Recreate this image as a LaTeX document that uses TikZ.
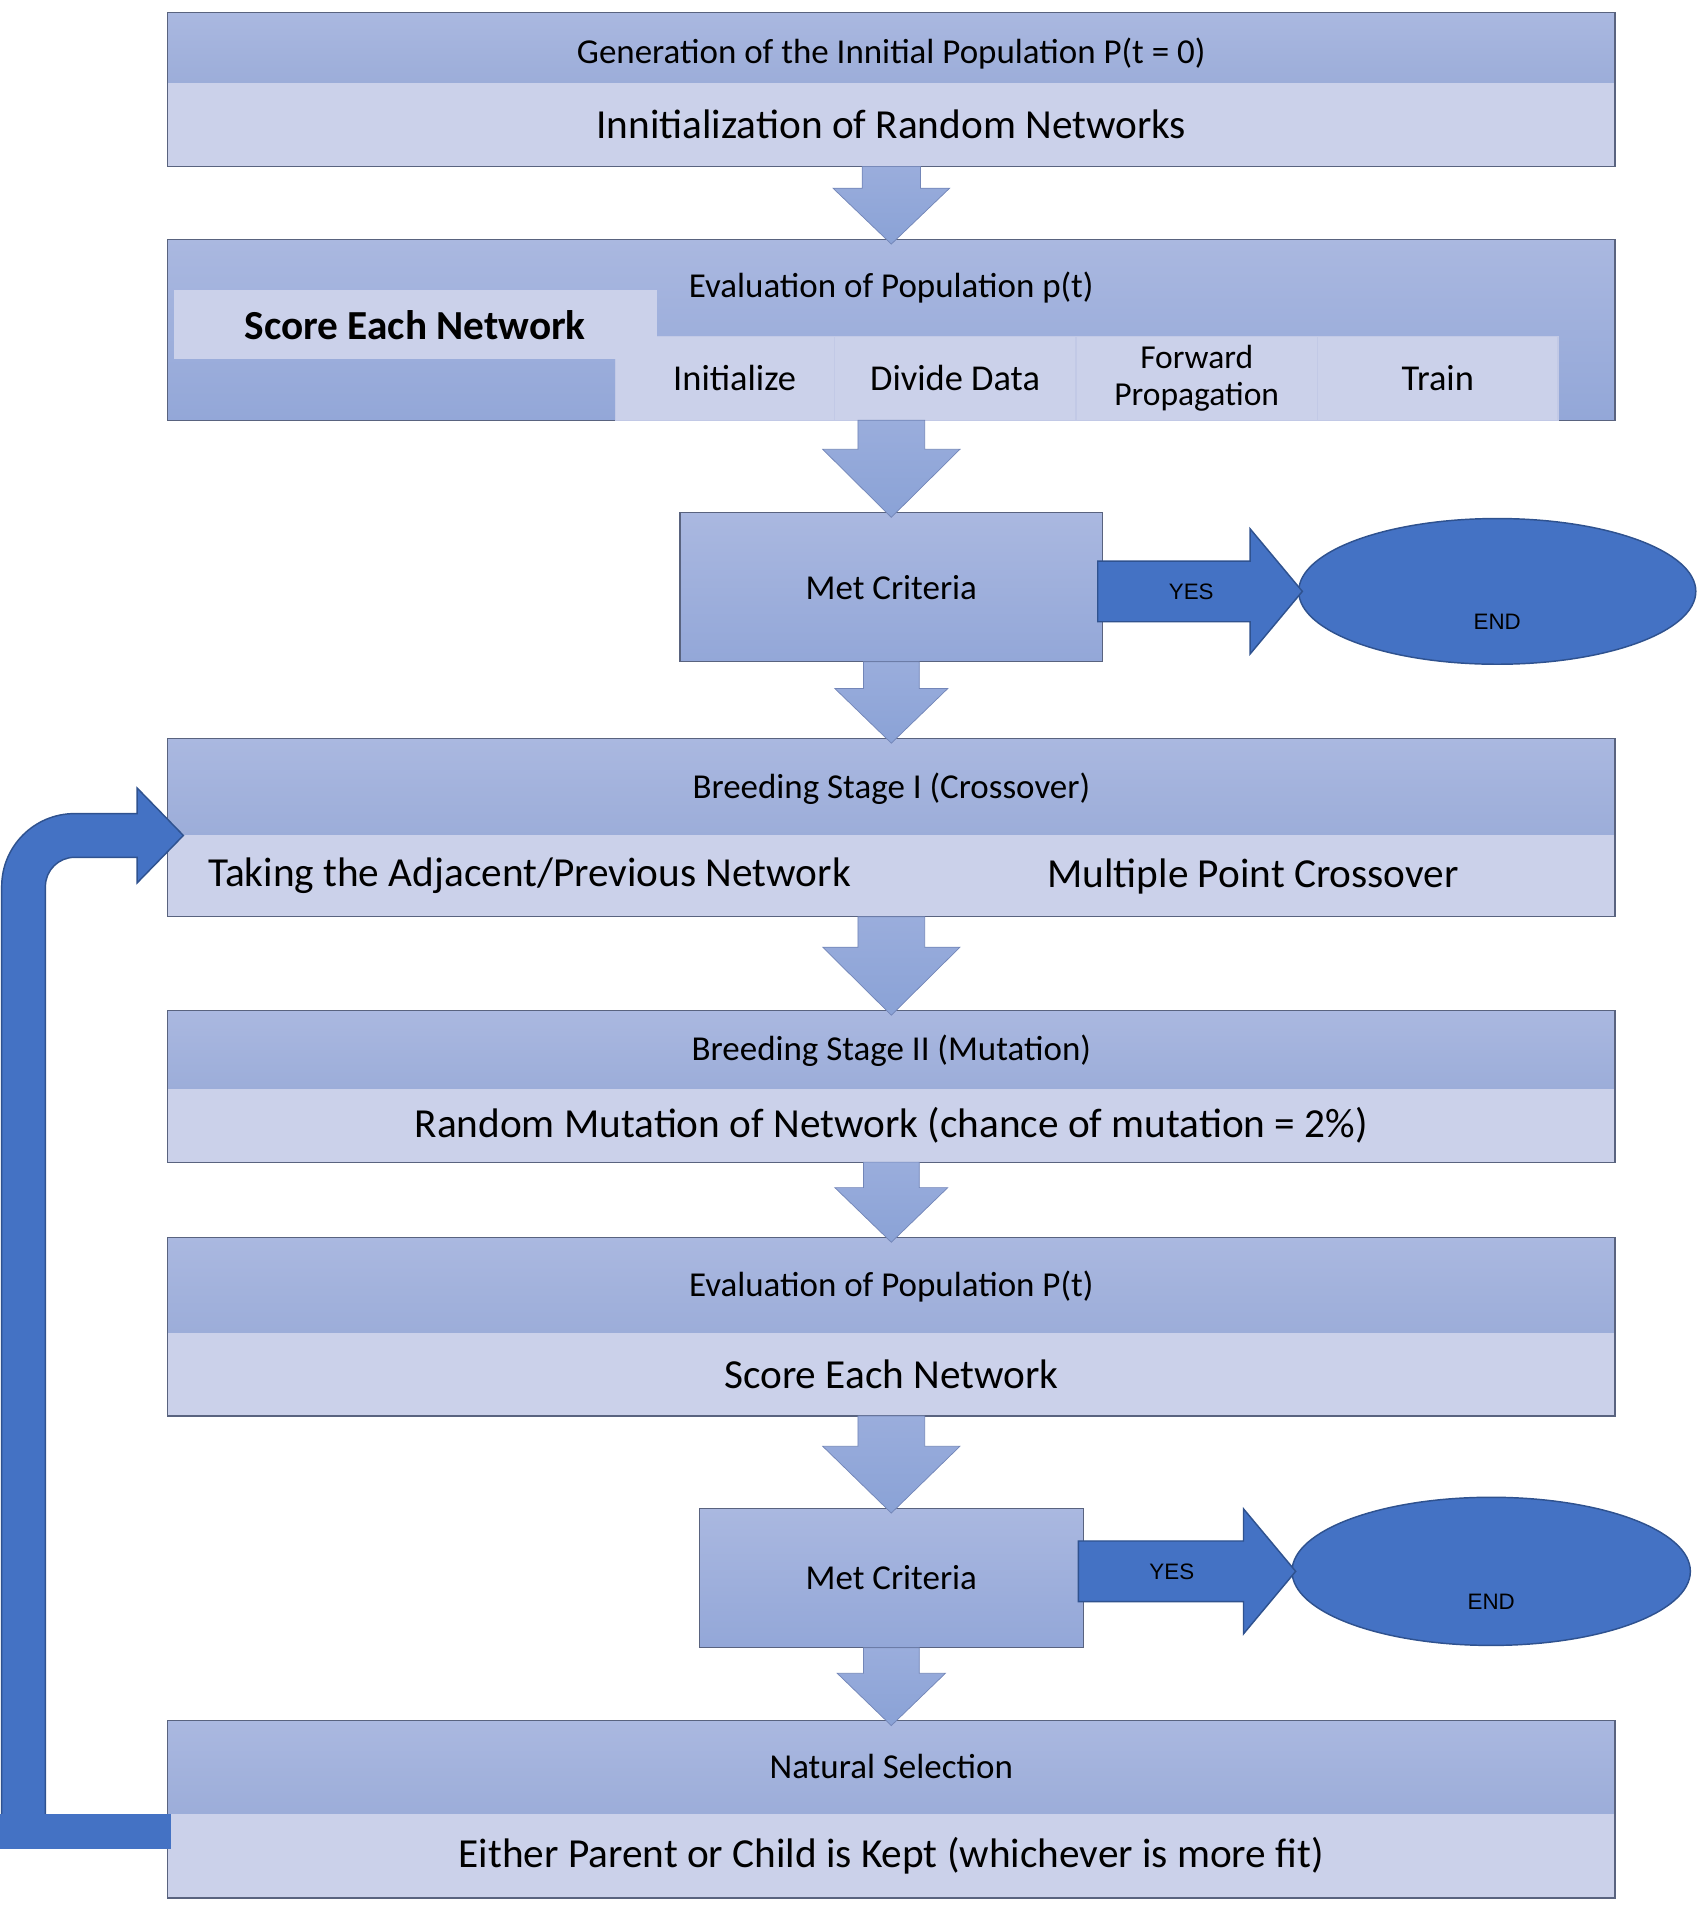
\documentclass[tikz,border=0pt]{standalone}
\usepackage{fontspec}
\setmainfont{Carlito}
\newfontfamily\arialfont{Liberation Sans}
\usetikzlibrary{calc, positioning, shapes.geometric}

\definecolor{bandtop}{HTML}{AAB8E0}
\definecolor{bandbot}{HTML}{9CADD9}
\definecolor{boxbot}{HTML}{93A7D8}
\definecolor{bodyfill}{HTML}{CBD1EA}
\definecolor{partline}{HTML}{C2C9E6}
\definecolor{flowtop}{HTML}{9AADDC}
\definecolor{flowbot}{HTML}{8AA2D6}
\definecolor{flowline}{HTML}{7386B8}
\definecolor{darkblue}{HTML}{4472C4}
\definecolor{darkline}{HTML}{2F528F}
\definecolor{boxline}{HTML}{59637F}

\begin{document}
\begin{tikzpicture}[
    x=0.5pt, y=-0.5pt,
    every node/.style={inner sep=0pt, outer sep=0pt, text=black},
    band/.style={rectangle, minimum width=596pt, top color=bandtop,
        bottom color=bandbot, font=\fontsize{14.4}{17}\selectfont,
        text height=9.2pt, text depth=0pt},
    body/.style={rectangle, minimum width=596pt, fill=bodyfill,
        font=\fontsize{17}{20}\selectfont},
    bigbox/.style={rectangle, top color=bandtop, bottom color=boxbot,
        draw=boxline, line width=0.5pt, font=\fontsize{14.4}{17}\selectfont},
    part/.style={rectangle, fill=bodyfill, draw=partline, line width=0.5pt,
        minimum height=34.5pt, font=\fontsize{15}{18}\selectfont},
    outline/.style={draw=boxline, line width=0.5pt},
    flow/.style={top color=flowtop, bottom color=flowbot, draw=flowline,
        line width=0.3pt},
    yesarrow/.style={fill=darkblue, draw=darkline, line width=0.6pt},
    endcap/.style={ellipse, fill=darkblue, draw=darkline, line width=0.6pt},
    endlabel/.style={font=\arialfont\fontsize{9.2}{11}\selectfont, yshift=-12.5pt}
    ]
\useasboundingbox (0,0) rectangle (1400,1569.6);

%initial population
\node[band, minimum height=29pt, text height=13.2pt] (gen) at (734,39)
    {Generation of the Innitial Population P(t = 0)};
\node[body, minimum height=34.5pt, below=0pt of gen] (genbody)
    {Innitialization of Random Networks};

%evaluation with sub steps
\node[bigbox, minimum width=596pt, minimum height=74.5pt] (eval) at (734,271.5) {};
\node[font=\fontsize{14.4}{17}\selectfont] (evaltitle) at (734,237)
    {Evaluation of Population p(t)};
\node[part, minimum width=90pt] (init) at (597,311.5)
    {\hspace*{8pt}Initialize};
\node[part, minimum width=99.5pt, right=0pt of init] (divide) {Divide Data};
\node[part, minimum width=99.5pt, right=0pt of divide, align=center,
    font=\fontsize{13.8}{15}\selectfont] (forward) {Forward\\Propagation};
\node[part, minimum width=99pt, right=0pt of forward] (train) {Train};
\node[part, draw=none, minimum width=199pt, minimum height=28.5pt,
    font=\fontsize{17}{20}\selectfont\bfseries] (scorenet) at (342,267.5)
    {Score Each Network};

%first check
\node[bigbox, minimum width=174pt, minimum height=61.5pt] (met1) at (734,483.5)
    {Met Criteria};
\node[endcap, minimum width=163.5pt, minimum height=60pt,
    label={[endlabel]center:END}] (end1) at (1233,487) {};

%crossover
\node[band, minimum height=40pt] (breed1) at (734,648)
    {Breeding Stage I (Crossover)};
\node[body, minimum width=298pt, minimum height=33.5pt, anchor=north west]
    (crossleft) at (breed1.south west) {Taking the Adjacent/Previous Network};
\node[body, minimum width=298pt, minimum height=33.5pt, right=0pt of crossleft]
    (crossright) {Multiple Point Crossover};

%mutation
\node[band, minimum height=32.5pt] (breed2) at (734,864.5)
    {Breeding Stage II (Mutation)};
\node[body, minimum height=30pt, below=0pt of breed2] (mutate)
    {Random Mutation of Network (chance of mutation = 2\%)};

%second evaluation
\node[band, minimum height=39.5pt] (eval2) at (734,1058.5)
    {Evaluation of Population P(t)};
\node[body, minimum height=34pt, below=0pt of eval2] (score)
    {Score Each Network};

%second check
\node[bigbox, minimum width=158pt, minimum height=57.5pt] (met2) at (734,1299.5)
    {Met Criteria};
\node[endcap, minimum width=164pt, minimum height=61pt,
    label={[endlabel]center:END}] (end2) at (1228,1294) {};

%selection
\node[band, minimum height=38.5pt] (select) at (734,1455.5)
    {Natural Selection};
\node[body, minimum height=34.5pt, below=0pt of select] (keep)
    {Either Parent or Child is Kept (whichever is more fit)};

%box outlines
\foreach \t/\b in {gen/genbody, breed1/crossright, breed2/mutate,
                   eval2/score, select/keep}
    \draw[outline] (\t.north west) rectangle (\b.south east);

%block arrows down the chain
\foreach \a/\b/\s/\h/\l in {
        genbody.south/eval.north/12pt/24pt/23pt,
        eval.south/met1.north/13.75pt/28.25pt/28pt,
        met1.south/breed1.north/11.5pt/23.25pt/22.5pt,
        crossleft.south east/breed2.north/13.75pt/28.25pt/28pt,
        mutate.south/eval2.north/11.5pt/23.25pt/22.5pt,
        score.south/met2.north/13.75pt/28.25pt/27.5pt,
        met2.south/select.north/11.5pt/22.25pt/21.5pt}
    \draw[flow] let \p1=(\a), \p2=(\b) in
        (\x1-\s,\y1) -- (\x1-\s,\y2-2pt+\l) -- (\x1-\h,\y2-2pt+\l)
        -- (\x1,\y2-2pt) -- (\x1+\h,\y2-2pt+\l) -- (\x1+\s,\y2-2pt+\l)
        -- (\x1+\s,\y1) -- cycle;

%yes arrows
\foreach \i in {1,2}
    \draw[yesarrow] let \p1=(met\i.east), \p2=(end\i.west) in
        (\x1-2pt,\y2+12.5pt) -- (\x2-20pt,\y2+12.5pt) -- (\x2-20pt,\y2+25.75pt)
        -- (\x2+1.5pt,\y2) -- (\x2-20pt,\y2-25.75pt) -- (\x2-20pt,\y2-12.5pt)
        -- (\x1-2pt,\y2-12.5pt) -- cycle
        (\x1+36.5pt,\y2) node[font=\arialfont\fontsize{9.2}{11}\selectfont] {YES};

%loop back from selection to crossover
\draw[yesarrow] let \p1=(select.south west), \p2=(breed1.south west) in
    (\x1-68.3pt,\y1-5pt) -- (\x1-68.3pt,\y2-21pt) arc (180:90:30pt)
    -- (\x1-12.5pt,\y2+9pt) -- (\x1-12.5pt,\y2+19.5pt) -- (\x1+6.5pt,\y2)
    -- (\x1-12.5pt,\y2-19.5pt) -- (\x1-12.5pt,\y2-9pt) -- (\x1-38.3pt,\y2-9pt)
    arc (90:180:12pt) -- (\x1-50.3pt,\y1-5pt) -- cycle;
\fill[darkblue] let \p1=(select.south west) in
    (\x1-69pt,\y1) rectangle (\x1+1.5pt,\y1-14.5pt);
\end{tikzpicture}
\end{document}
